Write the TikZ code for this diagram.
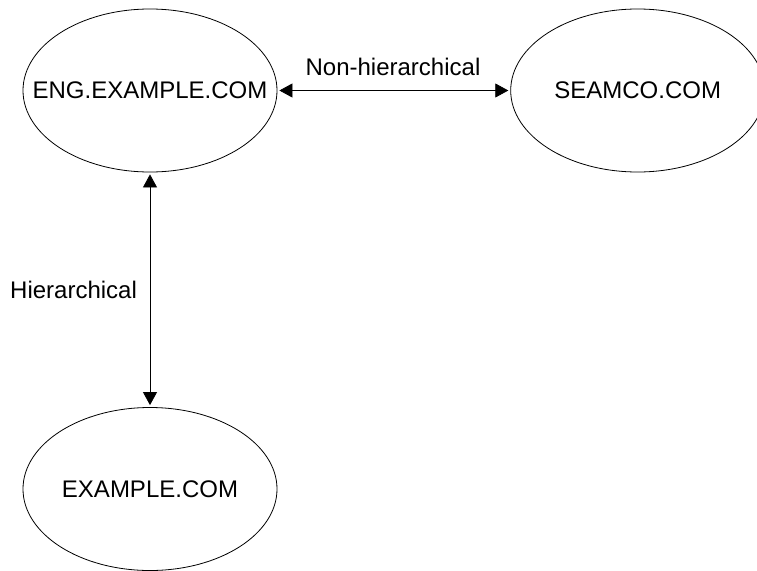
\documentclass[tikz,border=0pt]{standalone}
\usepackage{fontspec}
\setmainfont{Liberation Sans}
\usetikzlibrary{shapes.geometric,arrows.meta}

\begin{document}
\begin{tikzpicture}[x=1pt, y=-1pt,
	realm/.style={draw, ellipse, line width=0.8pt, inner sep=0pt,
		minimum width=254pt, minimum height=163pt, label={center:#1}},
	trust/.style={{Triangle[length=13pt,width=14pt]}-{Triangle[length=13pt,width=14pt]},
		line width=0.8pt, shorten <=2pt, shorten >=2pt},
	every label/.style={font=\fontsize{24}{28}\selectfont, inner sep=0pt},
	every node/.style={font=\fontsize{24}{28}\selectfont}]
	\useasboundingbox (0,0) rectangle (757,570);
	\node[realm=ENG.EXAMPLE.COM] (eng) at (150,90.5) {};
	\node[realm=SEAMCO.COM] (seamco) at (637.7,90.5) {};
	\node[realm=EXAMPLE.COM] (example) at (150,489) {};

	\draw[trust] (eng) -- (seamco);
	\draw[trust] (eng) -- (example);
	\node (nonhier) at (393,67) {Non-hierarchical};
	\node[anchor=west, inner sep=0pt] (hier) at (10,290) {Hierarchical};
\end{tikzpicture}
\end{document}
